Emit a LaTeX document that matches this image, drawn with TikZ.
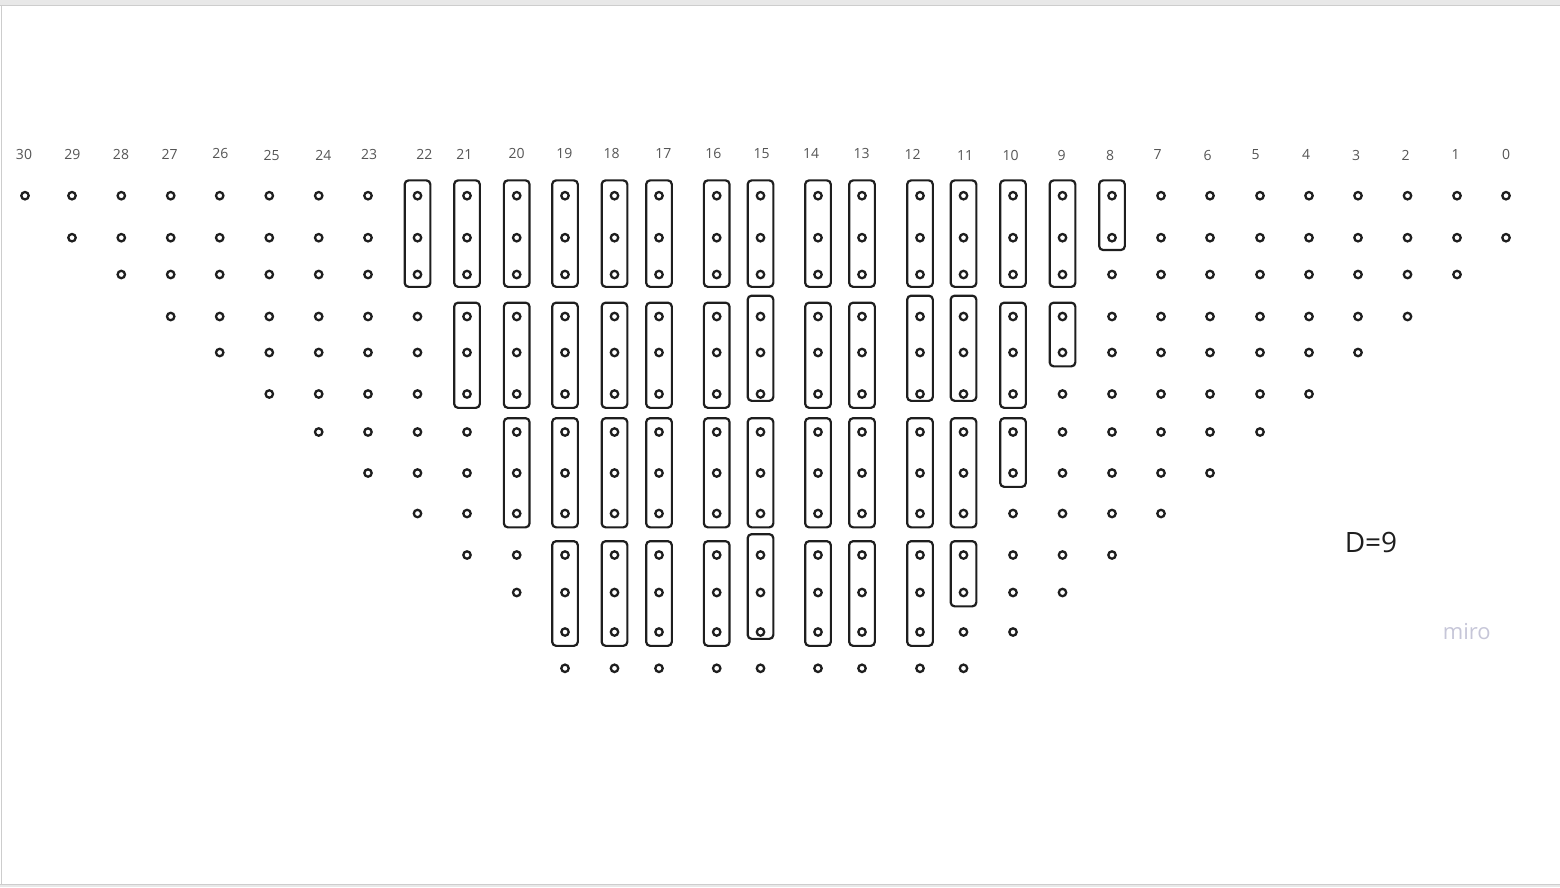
\documentclass[tikz,border=0pt]{standalone}
\usepackage{fontspec}
\setmainfont{Open Sans}
\usetikzlibrary{fit, positioning}
\definecolor{mink}{HTML}{1E1E1E}
\definecolor{mlabel}{HTML}{555555}
\definecolor{mframe}{HTML}{CDCDCD}
\definecolor{mband}{HTML}{E8E8E8}
\definecolor{mmiro}{HTML}{C6C6D8}
\tikzstyle{hole} = [circle, draw=mink, line width=2.3pt, minimum size=7.4pt, inner sep=0pt]
\tikzstyle{strip} = [rectangle, rounded corners=4pt, draw=mink, line width=2.2pt, inner xsep=8pt, inner ysep=9pt]
\tikzstyle{colnum} = [text=mlabel, font=\fontsize{14}{16}\selectfont]
\newcommand{\rowlist}{0/195.7, 1/237.7, 2/274.5, 3/316.5, 4/352.5, 5/394, 6/432, 7/473, 8/513.5, 9/555, 10/592.5, 11/632, 12/668.3}

\begin{document}
\begin{tikzpicture}[x=1pt, y=-1pt]
  \useasboundingbox (0,0) rectangle (1560,887);
  \fill[mband] (0,0) rectangle (1560,5);
  \fill[mband] (0,884) rectangle (1560,887);
  \draw[mframe, line width=1pt] (0,5) -- (1560,5);
  \draw[mframe, line width=1pt] (0,884) -- (1560,884);
  \draw[mframe, line width=1.5pt] (1.5,5) -- (1.5,884);
  \foreach \c/\x/\y in {30/24/154, 29/72.3/154, 28/121/154.5, 27/169.7/154.5, 26/220.3/153.5, 25/271.7/155, 24/323.3/155, 23/369/154.5, 22/424.3/154.5, 21/464.3/154, 20/516.7/153, 19/564.3/153, 18/611.7/153, 17/663.3/153, 16/713.3/153.3, 15/761.7/153.3, 14/811/153.3, 13/861.7/153.5, 12/912.7/154, 11/965/155, 10/1010.7/155, 9/1061.7/155.5, 8/1110/155, 7/1157.7/154, 6/1207.7/155, 5/1255.7/154.5, 4/1306/154.5, 3/1356/155, 2/1405.5/155, 1/1455.7/154, 0/1506/154}
    \node[colnum] (n-\c) at (\x,\y) {\c};
  \foreach \c/\x/\n in {30/25/0, 29/72/1, 28/121.3/2, 27/170.7/3, 26/219.7/4, 25/269.3/5, 24/318.7/6, 23/368/7, 22/417.5/8, 21/467/9, 20/516.7/10, 19/565/12, 18/614.5/12, 17/659/12, 16/716.7/12, 15/760.5/12, 14/818/12, 13/862/12, 12/920/12, 11/963.5/12, 10/1013/11, 9/1062.5/10, 8/1112/9, 7/1161/8, 6/1210/7, 5/1260/6, 4/1309/5, 3/1358/4, 2/1407.5/3, 1/1457/2, 0/1506/1}
    \foreach \r/\y in \rowlist {
      \ifnum\r>\n\relax\else
        \node[hole] (h-\c-\r) at (\x,\y) {};
      \fi
    };
  \foreach \c/\a/\b/\s in {22/0/2/1.5, 21/0/2/1.5, 21/3/5/0, 20/0/2/1.5, 20/3/5/0, 20/6/8/0,
      19/0/2/1.5, 19/3/5/0, 19/6/8/0, 19/9/11/0, 18/0/2/1.5, 18/3/5/0, 18/6/8/0, 18/9/11/0,
      17/0/2/1.5, 17/3/5/0, 17/6/8/0, 17/9/11/0, 16/0/2/1.5, 16/3/5/0, 16/6/8/0, 16/9/11/0,
      15/0/2/1.5, 15/3/5/7, 15/6/8/0, 15/9/11/7, 14/0/2/1.5, 14/3/5/0, 14/6/8/0, 14/9/11/0,
      13/0/2/1.5, 13/3/5/0, 13/6/8/0, 13/9/11/0, 12/0/2/1.5, 12/3/5/7, 12/6/8/0, 12/9/11/0,
      11/0/2/1.5, 11/3/5/7, 11/6/8/0, 11/9/10/0, 10/0/2/1.5, 10/3/5/0, 10/6/7/0,
      9/0/2/1.5, 9/3/4/0, 8/0/1/1.5}
    \node[strip, fit=(h-\c-\a)(h-\c-\b), yshift=\s pt] (s-\c-\a) {};
  \node (dval) [text=mink, font=\fontsize{28}{32}\selectfont] at (1371,542.7) {D=9};
  \node (logo) [text=mmiro, font=\fontsize{22}{26}\selectfont] at (1466.7,631.5) {miro};
\end{tikzpicture}
\end{document}
